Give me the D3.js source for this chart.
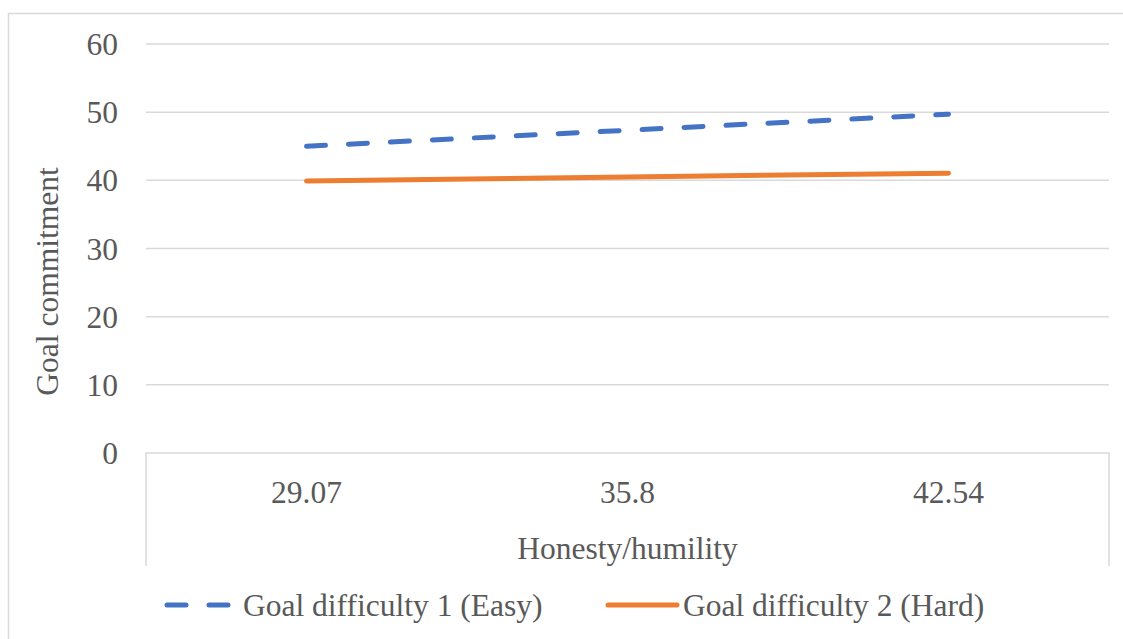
<!DOCTYPE html>
<html><head><meta charset="utf-8">
<script src="https://cdn.jsdelivr.net/npm/d3@7"></script>
<style>body{margin:0;background:#fff}svg{display:block}</style>
</head><body><svg id="c" width="1123" height="639"></svg>
<script>
const categories = ["29.07", "35.8", "42.54"];
const easyValues = [45.0, 47.35, 49.7];
const hardValues = [39.9, 40.5, 41.05];
const yTicks = [0, 10, 20, 30, 40, 50, 60];
const seriesNames = ["Goal difficulty 1 (Easy)", "Goal difficulty 2 (Hard)"];

(function () {
const svg = d3.select("#c");
const fs = 31.5;
const ff = '"Liberation Serif", "Times New Roman", serif';
const txt = "#595959";
const grid = "#d9d9d9";
const T = sel => sel.style("font-family", ff).style("font-size", fs + "px").attr("fill", txt);

// outer border
svg.append("rect").attr("x", 8.5).attr("y", 13.5).attr("width", 1130).attr("height", 640)
  .attr("fill", "none").attr("stroke", grid).attr("stroke-width", 1.5);

const pLeft = 146, pRight = 1109, pTop = 44, pBottom = 453;
const x = d3.scaleBand().domain(categories).range([pLeft, pRight]);
const y = d3.scaleLinear().domain([0, 60]).range([pBottom, pTop]);

// gridlines
svg.append("g").selectAll("line").data(yTicks.filter(d => d > 0)).join("line")
  .attr("x1", pLeft).attr("x2", pRight).attr("y1", d => y(d)).attr("y2", d => y(d))
  .attr("stroke", grid).attr("stroke-width", 1.5);

// y labels
svg.append("g").selectAll("text").data(yTicks).join("text")
  .attr("x", 118).attr("y", d => y(d)).attr("dy", "0.35em").attr("text-anchor", "end")
  .call(T).text(d => d);

// x axis box
const boxBottom = 566;
svg.append("path")
  .attr("d", `M${pLeft},${boxBottom}V${pBottom}H${pRight}V${boxBottom}`)
  .attr("fill", "none").attr("stroke", grid).attr("stroke-width", 1.5);

svg.append("g").selectAll("text").data(categories).join("text")
  .attr("x", d => x(d) + x.bandwidth() / 2).attr("y", 492).attr("dy", "0.35em")
  .attr("text-anchor", "middle").call(T).text(d => d);

svg.append("text").attr("x", (pLeft + pRight) / 2).attr("y", 548).attr("dy", "0.35em")
  .attr("text-anchor", "middle").call(T).text("Honesty/humility");

svg.append("text").attr("transform", `translate(47,${(pTop + pBottom) / 2 + 33}) rotate(-90)`)
  .attr("dy", "0.35em").attr("text-anchor", "middle").call(T).text("Goal commitment");

const line = d3.line().x((d, i) => x(categories[i]) + x.bandwidth() / 2).y(d => y(d));

svg.append("path").datum(hardValues).attr("d", line).attr("fill", "none")
  .attr("stroke", "#ed7d31").attr("stroke-width", 5).attr("stroke-linecap", "round");
svg.append("path").datum(easyValues).attr("d", line).attr("fill", "none")
  .attr("stroke", "#4472c4").attr("stroke-width", 5).attr("stroke-linecap", "round")
  .attr("stroke-dasharray", "19,23");

// legend
const ly = 605;
svg.append("line").attr("x1", 167).attr("x2", 229).attr("y1", ly).attr("y2", ly)
  .attr("stroke", "#4472c4").attr("stroke-width", 5).attr("stroke-linecap", "round")
  .attr("stroke-dasharray", "19,23");
svg.append("text").attr("x", 243).attr("y", ly).attr("dy", "0.35em").call(T).text(seriesNames[0]);
svg.append("line").attr("x1", 608).attr("x2", 677).attr("y1", ly).attr("y2", ly)
  .attr("stroke", "#ed7d31").attr("stroke-width", 5).attr("stroke-linecap", "round");
svg.append("text").attr("x", 683).attr("y", ly).attr("dy", "0.35em").call(T).text(seriesNames[1]);
})();
</script></body></html>
